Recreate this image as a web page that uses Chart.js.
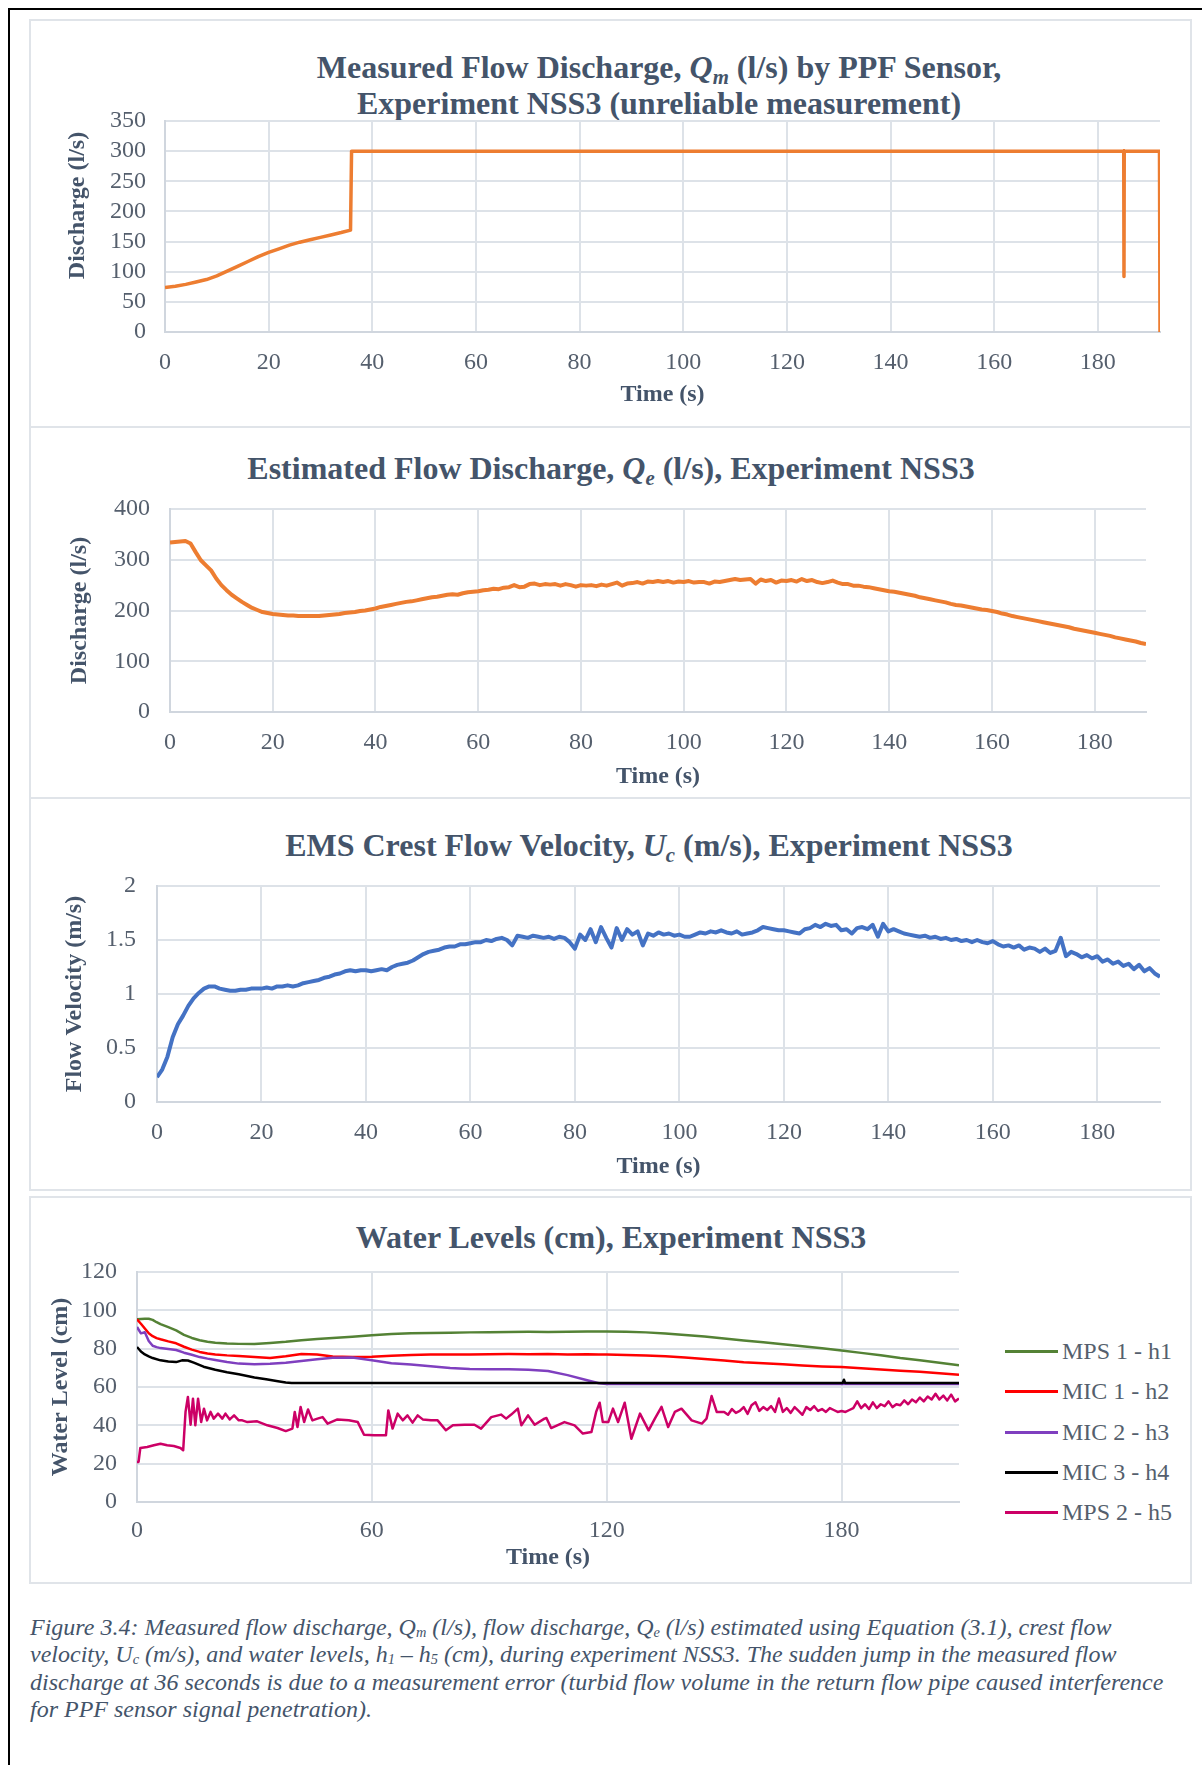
<!DOCTYPE html>
<html>
<head>
<meta charset="utf-8">
<script src="https://cdn.jsdelivr.net/npm/chart.js@4.4.0/dist/chart.umd.min.js"></script>
<style>
  body { margin: 0; width: 1202px; height: 1765px; background: #fff; position: relative; overflow: hidden;
         font-family: "Liberation Serif", "Times New Roman", serif; }
  .frame-top { position: absolute; left: 8px; top: 8px; width: 1194px; height: 2px; background: #000; }
  .frame-left { position: absolute; left: 8px; top: 8px; width: 2px; height: 1757px; background: #000; }
  .panel { position: absolute; left: 29px; width: 1163px; border: 2px solid #E0E4E9; box-sizing: border-box; }
  .title { position: absolute; font-weight: bold; font-size: 32px; line-height: 36px; color: #44546A;
           text-align: center; white-space: nowrap; transform: translateX(-50%); }
  .title sub { font-size: 0.65em; vertical-align: -0.3em; line-height: 0; }
  canvas { position: absolute; }
  .legend { position: absolute; left: 1005px; top: 1331px; }
  .legend .item { position: relative; height: 40.3px; }
  .legend .swatch { position: absolute; left: 0; top: 19px; width: 53px; height: 3px; }
  .legend .label { position: absolute; left: 57px; top: 6px; font-size: 24px; line-height: 28px; color: #555F6D; white-space: nowrap; }
  .caption { position: absolute; left: 30px; top: 1614px; font-style: italic; font-size: 24px; line-height: 27.3px;
             color: #44546A; white-space: nowrap; }
  .caption sub { font-size: 0.6em; vertical-align: -0.15em; line-height: 0; }
</style>
</head>
<body>
<div class="frame-top"></div>
<div class="frame-left"></div>

<div class="panel" style="top:19px;height:409px"></div>
<div class="panel" style="top:426px;height:373px"></div>
<div class="panel" style="top:797px;height:394px"></div>
<div class="panel" style="top:1196px;height:388px"></div>

<div class="title" style="left:659px;top:49px">Measured Flow Discharge, <i>Q<sub>m</sub></i> (l/s) by PPF Sensor,<br>Experiment NSS3 (unreliable measurement)</div>
<div class="title" style="left:611px;top:450px">Estimated Flow Discharge, <i>Q<sub>e</sub></i> (l/s), Experiment NSS3</div>
<div class="title" style="left:649px;top:827px">EMS Crest Flow Velocity, <i>U<sub>c</sub></i> (m/s), Experiment NSS3</div>
<div class="title" style="left:611px;top:1219px">Water Levels (cm), Experiment NSS3</div>

<canvas id="c1" width="1150" height="310" style="left:30px;top:100px"></canvas>
<canvas id="c2" width="1150" height="320" style="left:30px;top:480px"></canvas>
<canvas id="c3" width="1150" height="330" style="left:30px;top:860px"></canvas>
<canvas id="c4" width="950" height="330" style="left:30px;top:1250px"></canvas>

<div class="legend" id="legend"></div>

<div class="caption">Figure 3.4: Measured flow discharge, Q<sub>m</sub> (l/s), flow discharge, Q<sub>e</sub> (l/s) estimated using Equation (3.1), crest flow<br>velocity, U<sub>c</sub> (m/s), and water levels, h<sub>1</sub> – h<sub>5</sub> (cm), during experiment NSS3. The sudden jump in the measured flow<br>discharge at 36 seconds is due to a measurement error (turbid flow volume in the return flow pipe caused interference<br>for PPF sensor signal penetration).</div>

<script>
// measured discharge Qm (l/s) by PPF sensor
const qmTime = [0, 2, 4, 6, 8, 10, 12, 14, 16, 18, 20, 22, 24, 26, 28, 30, 32, 34, 35.8, 36, 185, 185.05, 185.1, 191.9, 192];
const qmFlow = [74, 76, 79, 83, 87, 93, 101, 109, 117, 125, 132, 138, 144, 149, 153, 157, 161, 165, 169, 300, 300, 92, 300, 300, 0];

// estimated discharge Qe (l/s), one value per second from t = 0
const qeFlow = [
  334, 335, 336, 337, 332, 315, 299, 289, 279, 263,
  250, 240, 231, 224, 217, 211, 205, 201, 197, 195,
  193, 192, 191, 190, 190, 189, 189, 189, 189, 189,
  190, 191, 192, 193, 195, 196, 197, 199, 200, 202,
  204, 207, 209, 211, 213, 215, 217, 218, 220, 222,
  224, 226, 227, 229, 231, 232, 231, 234, 236, 237,
  238, 240, 241, 243, 242, 245, 246, 250, 246, 247,
  252, 253, 250, 252, 251, 252, 249, 252, 250, 247,
  250, 249, 250, 248, 251, 249, 252, 255, 249, 253,
  254, 256, 253, 257, 256, 258, 256, 258, 255, 257,
  256, 258, 255, 256, 256, 253, 257, 256, 258, 260,
  262, 260, 261, 262, 253, 261, 258, 260, 255, 259,
  258, 260, 257, 262, 258, 260, 256, 254, 256, 259,
  255, 252, 252, 249, 249, 247, 246, 244, 242, 240,
  238, 237, 235, 233, 231, 229, 226, 224, 222, 220,
  218, 216, 213, 211, 210, 208, 206, 204, 202, 201,
  199, 197, 194, 192, 189, 187, 185, 183, 181, 179,
  177, 175, 173, 171, 169, 167, 164, 162, 160, 158,
  156, 154, 152, 150, 147, 145, 143, 141, 139, 136,
  134
];

// EMS crest velocity Uc (m/s), one value per second from t = 0
const ucVel = [
  0.23, 0.30, 0.42, 0.60, 0.72, 0.80, 0.89, 0.96, 1.01, 1.05,
  1.07, 1.07, 1.05, 1.04, 1.03, 1.03, 1.04, 1.04, 1.05, 1.05,
  1.05, 1.06, 1.05, 1.07, 1.07, 1.08, 1.07, 1.08, 1.10, 1.11,
  1.12, 1.13, 1.15, 1.16, 1.18, 1.19, 1.21, 1.22, 1.21, 1.22,
  1.22, 1.21, 1.22, 1.23, 1.22, 1.25, 1.27, 1.28, 1.29, 1.31,
  1.34, 1.37, 1.39, 1.40, 1.41, 1.43, 1.44, 1.44, 1.46, 1.46,
  1.47, 1.48, 1.48, 1.50, 1.49, 1.51, 1.52, 1.50, 1.45, 1.54,
  1.53, 1.52, 1.54, 1.53, 1.52, 1.53, 1.51, 1.53, 1.52, 1.48,
  1.42, 1.55, 1.50, 1.60, 1.48, 1.62, 1.52, 1.43, 1.61, 1.50,
  1.60, 1.55, 1.58, 1.45, 1.56, 1.54, 1.57, 1.55, 1.56, 1.54,
  1.55, 1.53, 1.53, 1.55, 1.57, 1.56, 1.58, 1.57, 1.59, 1.57,
  1.56, 1.58, 1.55, 1.56, 1.57, 1.59, 1.62, 1.61, 1.60, 1.59,
  1.59, 1.58, 1.57, 1.56, 1.60, 1.61, 1.64, 1.62, 1.65, 1.63,
  1.64, 1.59, 1.60, 1.56, 1.61, 1.62, 1.60, 1.64, 1.53, 1.65,
  1.58, 1.60, 1.58, 1.56, 1.55, 1.54, 1.53, 1.54, 1.52, 1.53,
  1.51, 1.52, 1.50, 1.51, 1.49, 1.50, 1.48, 1.50, 1.48, 1.47,
  1.49, 1.46, 1.44, 1.45, 1.43, 1.45, 1.41, 1.43, 1.42, 1.39,
  1.42, 1.38, 1.40, 1.52, 1.35, 1.39, 1.37, 1.34, 1.36, 1.33,
  1.35, 1.30, 1.32, 1.28, 1.30, 1.26, 1.28, 1.23, 1.27, 1.21,
  1.24, 1.19, 1.16
];

// water levels (cm)
const hTime = [0, 1, 2, 3, 4, 5, 6, 8, 10, 12, 14, 16, 18, 20, 23, 26, 30, 34, 38, 42, 46, 50,
  55, 60, 65, 70, 75, 80, 85, 90, 95, 100, 105, 110, 115, 118, 120,
  125, 130, 135, 140, 145, 150, 155, 160, 165, 170, 175, 180, 185, 190, 195, 200, 205, 210];
const h1Level = [95.3, 95.5, 95.6, 95.6, 95.0, 93.8, 92.8, 91.2, 89.5, 87.2, 85.6, 84.4, 83.6, 83.1,
  82.7, 82.5, 82.4, 83.0, 83.6, 84.4, 85.0, 85.6,
  86.2, 87.0, 87.6, 88.0, 88.2, 88.3, 88.5, 88.6, 88.7, 88.8, 88.7, 88.8, 88.9, 88.9, 89.0,
  88.8, 88.5, 87.9, 87.1, 86.3, 85.3, 84.3, 83.3, 82.3, 81.2, 80.2, 79.1, 77.8, 76.6, 75.1, 73.9, 72.6, 71.3];
const h2Level = [95.3, 93.0, 90.5, 88.0, 86.5, 85.5, 84.9, 83.8, 82.8, 81.0, 79.5, 78.3, 77.5, 77.0,
  76.5, 76.2, 75.6, 75.1, 76.0, 77.2, 76.9, 75.9,
  75.7, 75.8, 76.3, 76.7, 76.9, 77.0, 77.0, 77.1, 77.2, 77.1, 77.2, 77.0, 77.1, 76.9, 76.9,
  76.7, 76.4, 76.0, 75.4, 74.6, 73.8, 72.9, 72.4, 71.9, 71.2, 70.7, 70.4, 69.8, 69.1, 68.5, 67.9, 67.2, 66.4];
const h3Level = [91.3, 88.0, 88.6, 84.0, 81.5, 80.8, 80.3, 79.8, 79.3, 77.9, 76.8, 75.6, 74.8, 74.1,
  73.0, 72.2, 71.9, 72.1, 72.7, 73.6, 74.5, 75.2,
  75.4, 74.0, 72.4, 71.7, 70.8, 69.9, 69.4, 69.2, 69.2, 69.0, 68.3, 66.2, 63.5, 62.0, 61.6,
  61.6, 61.6, 61.6, 61.6, 61.6, 61.6, 61.6, 61.6, 61.6, 61.6, 61.6, 61.6, 61.6, 61.6, 61.6, 61.6, 61.6, 61.6];
const h4Time = [0, 1, 2, 3, 4, 6, 8, 10, 11.5, 13, 14.5, 17, 20, 23, 26, 30, 33, 36, 38, 39.5, 180.3, 180.6, 180.9, 210];
const h4Level = [80.9, 78.5, 77.0, 76.0, 75.1, 73.9, 73.3, 73.0, 73.9, 73.8, 72.7, 70.6, 69.0, 67.7, 66.6, 65.0, 64.0, 63.0, 62.4, 62.1, 62.1, 63.8, 62.1, 62.1];
const h5Time = [0, 0.4, 0.85, 2.6, 4.3, 6, 7.7, 9.4, 11.1, 11.8, 12.4, 13, 13.7, 14.3, 14.9, 15.6, 16.4, 17.1, 17.9, 18.8,
  19.6, 20.7, 21.8, 22.6, 23.7, 24.8, 26, 26.9, 28.2, 30.7, 33.3, 35.9, 38, 39.7, 40.3, 41, 41.8, 42.7, 43.7, 44.8,
  46.1, 47.4, 48.7, 51.2, 54.1, 56.4, 58, 60.6, 63.6, 64.2, 65.3, 66.6, 67.9, 69.1, 70.4, 71.7, 73, 75.1, 76.8, 78.9,
  80.7, 83.7, 86.2, 87.9, 90.5, 93, 94.3, 95.6, 97.3, 98.2, 99.9, 101.6, 104.1, 104.6, 105.8, 109.2, 111.8, 113.9, 116.1, 117.3,
  118.2, 119, 120.4, 121.6, 122.9, 124.6, 126.3, 128.5, 130.7, 132.3, 134, 135.7, 137.4, 139.1, 141.7, 144.3, 145.5, 146.8, 148.1,
  150, 151, 152, 153, 154, 155, 156, 157, 158, 159, 160, 161, 162, 163, 164, 165, 166, 167, 168, 169,
  170, 171, 172, 173, 174, 175, 176, 177, 178, 179, 180, 181, 182, 183, 184, 185, 186, 187, 188, 189,
  190, 191, 192, 193, 194, 195, 196, 197, 198, 199, 200, 201, 202, 203, 204, 205, 206, 207, 208, 209, 210];
const h5Level = [20.9, 20.9, 28.2, 28.7, 29.6, 30.4, 29.6, 29.2, 28.2, 27.0, 47.0, 54.8, 40.3, 53.9, 40.0, 53.9, 41.7, 48.7, 42.6, 47.0,
  43.5, 46.1, 43.5, 46.1, 43.1, 45.2, 42.6, 42.6, 41.7, 42.1, 40.0, 38.6, 37.0, 38.3, 47.0, 39.1, 49.6, 41.7, 48.3, 42.6,
  43.5, 44.3, 40.9, 43.1, 42.6, 41.7, 35.1, 34.8, 34.8, 47.8, 38.3, 46.1, 42.6, 45.2, 41.4, 45.2, 43.1, 42.6, 42.6, 37.4,
  40.0, 40.3, 40.3, 38.3, 44.3, 45.6, 43.5, 45.6, 48.7, 40.0, 45.2, 40.3, 43.5, 43.8, 38.6, 41.7, 40.0, 35.7, 36.5, 47.0,
  51.8, 41.7, 41.7, 48.7, 41.7, 51.8, 33.0, 46.1, 37.4, 43.5, 49.6, 39.1, 47.0, 48.7, 42.6, 40.9, 43.5, 55.3, 47.0,
  47.0, 45.5, 48.5, 46.5, 47.5, 49.5, 46.0, 50.5, 52.0, 47.5, 49.5, 48.0, 50.0, 47.0, 54.0, 47.0, 49.0, 46.5, 49.5, 47.5,
  45.5, 49.5, 48.0, 50.0, 47.5, 48.5, 47.0, 49.0, 48.0, 47.0, 47.5, 47.0, 48.0, 49.0, 52.5, 49.0, 51.0, 48.5, 52.0, 49.0,
  51.0, 50.0, 52.5, 49.5, 51.0, 50.5, 53.0, 51.0, 53.5, 52.0, 54.5, 52.5, 55.0, 53.5, 56.5, 53.5, 55.5, 53.0, 56.0, 52.5, 54.0];

const seriesNames = ['MPS 1 - h1', 'MIC 1 - h2', 'MIC 2 - h3', 'MIC 3 - h4', 'MPS 2 - h5'];
const seriesColors = ['#548235', '#FF0000', '#7F3FBF', '#000000', '#CC0066'];

Chart.defaults.font.family = "'Liberation Serif', 'Times New Roman', serif";
Chart.defaults.color = '#555F6D';

function pairs(xs, ys) {
  return xs.map((x, i) => ({ x: x, y: ys[i] }));
}
function everySecond(ys) {
  return ys.map((y, i) => ({ x: i, y: y }));
}

const gridColor = '#DDE2E8';
const tickFont = { size: 24 };
const axisTitleFont = { size: 24, weight: 'bold' };

function lineChart(id, box, xAxis, yAxis, datasets) {
  return new Chart(document.getElementById(id), {
    type: 'line',
    data: { datasets: datasets },
    options: {
      responsive: false,
      animation: false,
      parsing: false,
      layout: { padding: { top: box.padTop, right: box.padRight, left: 0, bottom: 0 } },
      elements: { point: { radius: 0 }, line: { tension: 0, borderJoinStyle: 'round' } },
      plugins: { legend: { display: false }, tooltip: { enabled: false } },
      scales: {
        x: {
          type: 'linear', min: 0, max: xAxis.max,
          ticks: { stepSize: xAxis.step, includeBounds: false, autoSkip: false, padding: box.xTickPad, font: tickFont, maxRotation: 0 },
          grid: { color: gridColor, lineWidth: 2, drawTicks: false },
          border: { color: '#D0D6DE', width: 2 },
          title: { display: true, text: 'Time (s)', font: axisTitleFont, color: '#44546A', padding: { top: 0, bottom: box.xTitlePad } },
          afterFit: s => { s.height = box.xHeight; s.paddingLeft = 0; s.paddingRight = 0; }
        },
        y: {
          min: 0, max: yAxis.max,
          ticks: { stepSize: yAxis.step, autoSkip: false, padding: box.yTickPad, font: tickFont, callback: v => String(v) },
          grid: { color: gridColor, lineWidth: 2, drawTicks: false },
          border: { color: '#D0D6DE', width: 2 },
          title: { display: true, text: yAxis.title, font: axisTitleFont, color: '#44546A', padding: { top: box.yTitlePad, bottom: 0 } },
          afterFit: s => { s.width = box.yWidth; s.paddingTop = 0; s.paddingBottom = 0; }
        }
      }
    }
  });
}

// the first chart's axis title sits a little above the middle of the axis
lineChart('c1',
  { padTop: 21, padRight: 20, yWidth: 135, xHeight: 78, xTickPad: 16, xTitlePad: 1, yTickPad: 19, yTitlePad: 33 },
  { max: 192, step: 20 }, { max: 350, step: 50, title: '       Discharge (l/s)' },
  [{ data: pairs(qmTime, qmFlow), borderColor: '#ED7D31', borderWidth: 3.5 }]);

lineChart('c2',
  { padTop: 29, padRight: 34, yWidth: 140, xHeight: 88, xTickPad: 16, xTitlePad: 9, yTickPad: 20, yTitlePad: 35 },
  { max: 190, step: 20 }, { max: 400, step: 100, title: 'Discharge (l/s)' },
  [{ data: everySecond(qeFlow), borderColor: '#ED7D31', borderWidth: 4 }]);

lineChart('c3',
  { padTop: 26, padRight: 20, yWidth: 127, xHeight: 88, xTickPad: 16, xTitlePad: 9, yTickPad: 21, yTitlePad: 30 },
  { max: 192, step: 20 }, { max: 2, step: 0.5, title: 'Flow Velocity (m/s)' },
  [{ data: everySecond(ucVel), borderColor: '#4472C4', borderWidth: 4 }]);

const levelData = [
  pairs(hTime, h1Level), pairs(hTime, h2Level), pairs(hTime, h3Level),
  pairs(h4Time, h4Level), pairs(h5Time, h5Level)
];
lineChart('c4',
  { padTop: 22, padRight: 21, yWidth: 107, xHeight: 78, xTickPad: 14, xTitlePad: 8, yTickPad: 20, yTitlePad: 16 },
  { max: 210, step: 60 }, { max: 120, step: 20, title: 'Water Level (cm)' },
  levelData.map((d, i) => ({
    label: seriesNames[i], data: d, borderColor: seriesColors[i], borderWidth: 2.5, order: 4 - i
  })));

// legend for the water level chart
const legendEl = document.getElementById('legend');
seriesNames.forEach((name, i) => {
  const item = document.createElement('div');
  item.className = 'item';
  item.innerHTML = '<div class="swatch" style="background:' + seriesColors[i] + '"></div><div class="label">' + name + '</div>';
  legendEl.appendChild(item);
});
</script>
</body>
</html>
